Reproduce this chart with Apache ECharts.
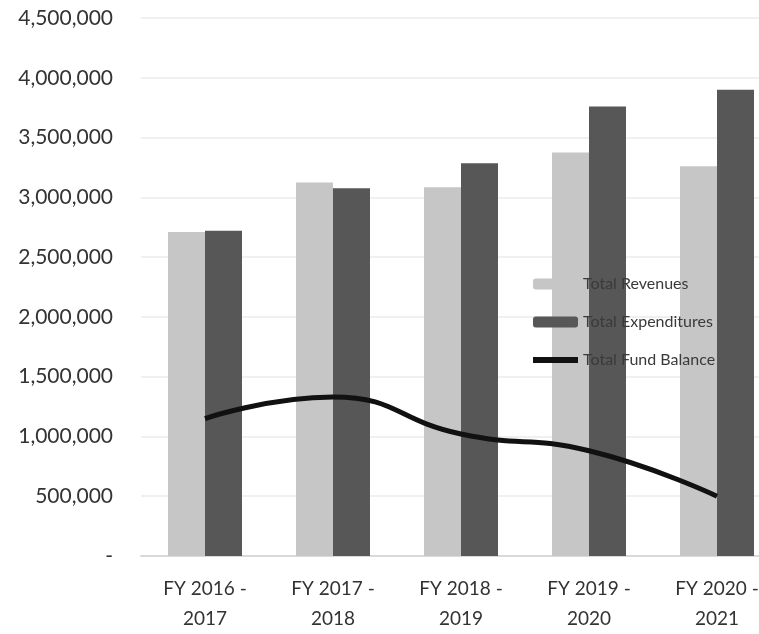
<!DOCTYPE html>
<html>
<head>
<meta charset="utf-8">
<script src="https://cdn.jsdelivr.net/npm/echarts@6/dist/echarts.min.js"></script>
<style>
  html, body { margin: 0; padding: 0; background: #fff; overflow: hidden; }
  /* 原图右侧被裁掉，容器比窗口宽 */
  #chart { width: 781px; height: 634px; }
</style>
</head>
<body>
<div id="chart"></div>
<script>
// 数据
const years = ['FY 2016 -\n2017', 'FY 2017 -\n2018', 'FY 2018 -\n2019', 'FY 2019 -\n2020', 'FY 2020 -\n2021'];
const revenues = [2710000, 3125000, 3085000, 3375000, 3260000];
const expenditures = [2720000, 3075000, 3285000, 3760000, 3900000];
const fundBalance = [1150000, 1330000, 1020000, 880000, 500000];

const myChart = echarts.init(document.getElementById('chart'));

myChart.setOption({
    animation: false,
    textStyle: {fontFamily: 'Lato'},
    grid: {left: 141, right: 0, top: 18, bottom: 76},
    legend: {
        orient: 'vertical',
        left: 525,
        top: 271,
        itemWidth: 45,
        itemHeight: 11,
        itemGap: 22,
        textStyle: {fontSize: 16, color: '#3a3a3a'},
        data: [
            'Total Revenues',
            'Total Expenditures',
            {name: 'Total Fund Balance', lineStyle: {width: 6, color: '#111'}, itemStyle: {opacity: 0}}
        ]
    },
    xAxis: {
        type: 'category',
        data: years,
        axisTick: {show: false},
        axisLine: {lineStyle: {color: '#d9d9d9', width: 2}},
        axisLabel: {fontSize: 19, color: '#333', lineHeight: 30, margin: 18}
    },
    yAxis: {
        type: 'value',
        min: 0,
        max: 4500000,
        interval: 500000,
        axisLine: {show: false},
        axisTick: {show: false},
        splitLine: {lineStyle: {color: '#f0f0f0', width: 2}},
        axisLabel: {
            fontSize: 21,
            color: '#333',
            margin: 28,
            formatter: v => v === 0 ? '-' : v.toLocaleString('en-US')
        }
    },
    series: [
        {
            name: 'Total Revenues',
            type: 'bar',
            barWidth: 37,
            barGap: '0%',
            itemStyle: {color: '#c6c6c6'},
            data: revenues
        },
        {
            name: 'Total Expenditures',
            type: 'bar',
            barWidth: 37,
            barGap: '0%',
            itemStyle: {color: '#575757'},
            data: expenditures
        },
        {
            name: 'Total Fund Balance',
            type: 'line',
            smooth: true,
            symbol: 'none',
            lineStyle: {color: '#111', width: 5},
            itemStyle: {color: '#111'},
            data: fundBalance
        }
    ]
});
</script>
</body>
</html>
